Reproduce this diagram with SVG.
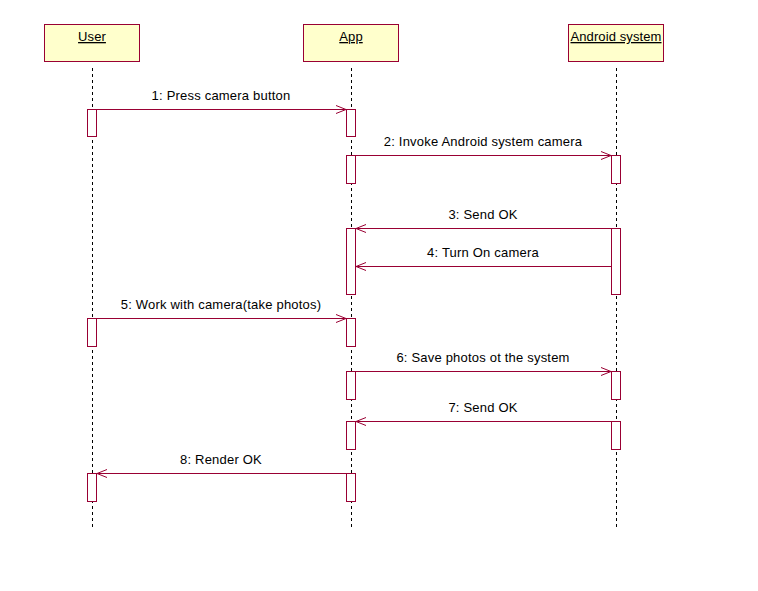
<svg xmlns="http://www.w3.org/2000/svg" width="758" height="591" viewBox="0 0 758 591">
<defs>
<style>
.hdr{fill:#ffffcc;stroke:#990033;stroke-width:1}
.ll{stroke:#000;stroke-width:1;stroke-dasharray:3,3;fill:none}
.act{fill:#fff;stroke:#990033;stroke-width:1}
.msg{stroke:#990033;stroke-width:1;fill:none;marker-end:url(#arr)}
.t{font-family:"Liberation Sans",Arial,sans-serif;font-size:13px;letter-spacing:0.2px;fill:#000;text-anchor:middle}
.h{text-decoration:underline;letter-spacing:0.1px;font-weight:normal}
</style>
<marker id="arr" viewBox="0 0 12 10" refX="11" refY="5" markerWidth="12" markerHeight="10" markerUnits="userSpaceOnUse" orient="auto">
<path d="M1,1 L11,5 L1,9" fill="none" stroke="#990033" stroke-width="1"/>
</marker>
</defs>
<rect width="758" height="591" fill="#fff"/>
<g id="user">
<rect class="hdr" x="44.5" y="24.5" width="95" height="37"/>
<text class="t h" x="92" y="41">User</text>
<line class="ll" x1="92.5" y1="68" x2="92.5" y2="528"/>
<rect class="act" x="87.5" y="109.5" width="9" height="27"/>
<rect class="act" x="87.5" y="318.5" width="9" height="28"/>
<rect class="act" x="87.5" y="473.5" width="9" height="28"/>
</g>
<g id="app">
<rect class="hdr" x="303.5" y="24.5" width="95" height="37"/>
<text class="t h" x="351" y="41">App</text>
<line class="ll" x1="351.5" y1="68" x2="351.5" y2="528"/>
<rect class="act" x="346.5" y="109.5" width="9" height="27"/>
<rect class="act" x="346.5" y="155.5" width="9" height="28"/>
<rect class="act" x="346.5" y="228.5" width="9" height="66"/>
<rect class="act" x="346.5" y="318.5" width="9" height="28"/>
<rect class="act" x="346.5" y="371.5" width="9" height="28"/>
<rect class="act" x="346.5" y="421.5" width="9" height="28"/>
<rect class="act" x="346.5" y="473.5" width="9" height="28"/>
</g>
<g id="android">
<rect class="hdr" x="568.5" y="24.5" width="95" height="37"/>
<text class="t h" x="616" y="41">Android system</text>
<line class="ll" x1="616.5" y1="68" x2="616.5" y2="528"/>
<rect class="act" x="611.5" y="155.5" width="9" height="28"/>
<rect class="act" x="611.5" y="228.5" width="9" height="66"/>
<rect class="act" x="611.5" y="371.5" width="9" height="28"/>
<rect class="act" x="611.5" y="421.5" width="9" height="28"/>
</g>
<g id="messages">
<line class="msg" x1="96" y1="109.5" x2="346" y2="109.5"/>
<text class="t" x="221" y="100">1: Press camera button</text>
<line class="msg" x1="355" y1="155.5" x2="611" y2="155.5"/>
<text class="t" x="483" y="146">2: Invoke Android system camera</text>
<line class="msg" x1="611" y1="228.5" x2="356" y2="228.5"/>
<text class="t" x="483" y="219">3: Send OK</text>
<line class="msg" x1="611" y1="266.5" x2="356" y2="266.5"/>
<text class="t" x="483" y="257">4: Turn On camera</text>
<line class="msg" x1="96" y1="318.5" x2="346" y2="318.5"/>
<text class="t" x="221" y="309">5: Work with camera(take photos)</text>
<line class="msg" x1="355" y1="371.5" x2="611" y2="371.5"/>
<text class="t" x="483" y="362">6: Save photos ot the system</text>
<line class="msg" x1="611" y1="421.5" x2="356" y2="421.5"/>
<text class="t" x="483" y="412">7: Send OK</text>
<line class="msg" x1="346" y1="473.5" x2="97" y2="473.5"/>
<text class="t" x="221" y="464">8: Render OK</text>
</g>
</svg>
